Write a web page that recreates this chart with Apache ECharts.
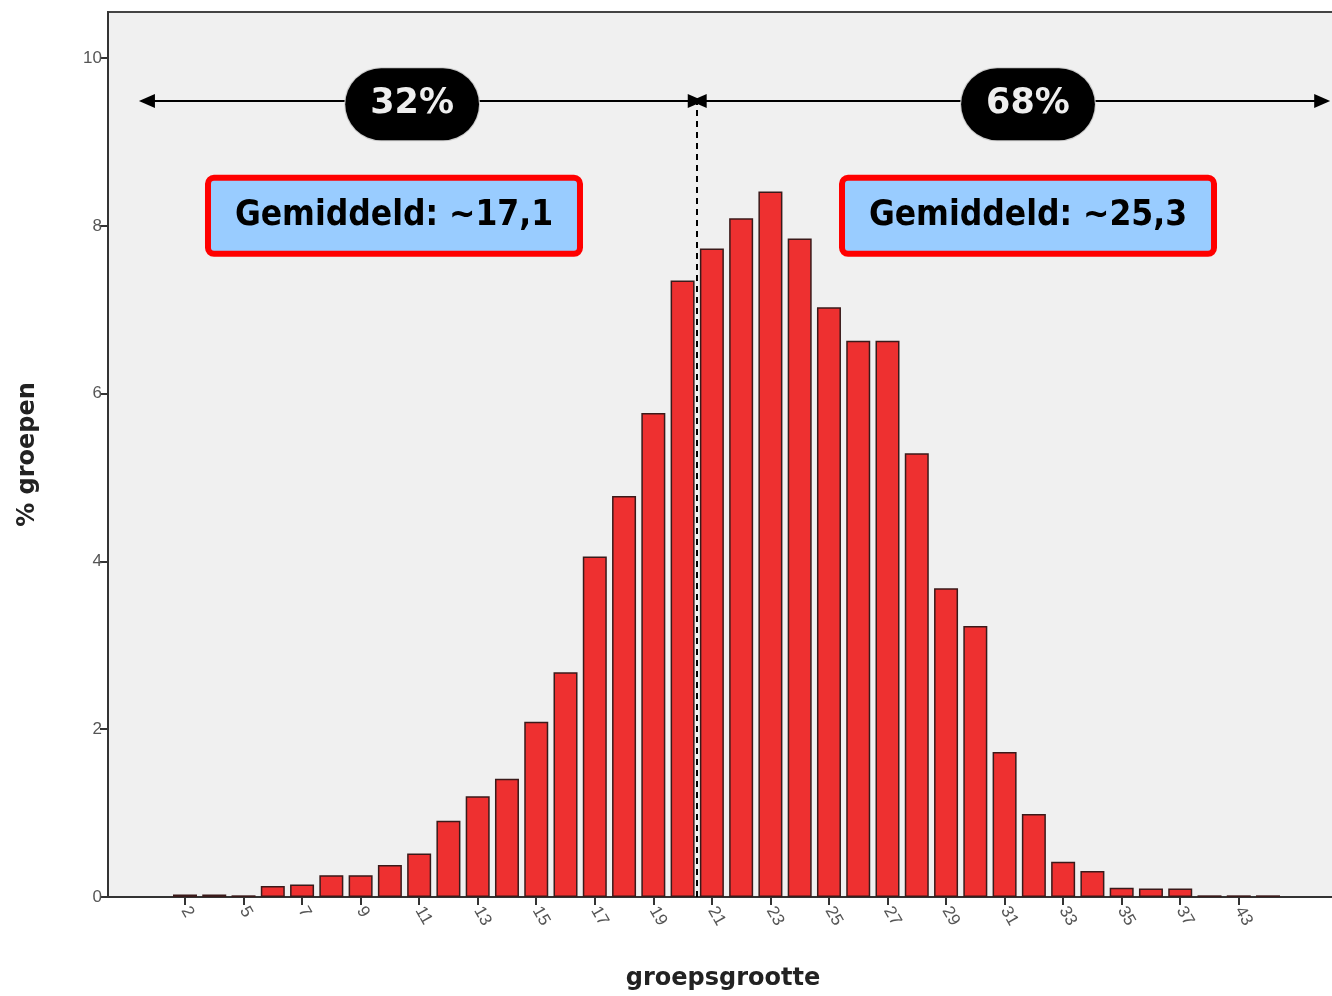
<!DOCTYPE html>
<html>
<head>
<meta charset="utf-8">
<title>groepsgrootte</title>
<script src="https://cdn.jsdelivr.net/npm/echarts@6/dist/echarts.min.js"></script>
<style>
  html, body { margin: 0; padding: 0; background: #ffffff; }
  #chart { width: 1332px; height: 996px; }
</style>
</head>
<body>
<div id="chart"></div>
<script>
// Group sizes (only the sizes that occur) and the share of groups per size, in %
const groupSizes = [2, 3, 5, 6, 7, 8, 9, 10, 11, 12, 13, 14, 15, 16, 17, 18, 19, 20, 21, 22,
                    23, 24, 25, 26, 27, 28, 29, 30, 31, 32, 33, 34, 35, 36, 37, 39, 43, 45];
const percentGroups = [0.03, 0.03, 0.02, 0.13, 0.15, 0.26, 0.26, 0.38, 0.52, 0.91, 1.20, 1.41,
                       2.09, 2.68, 4.06, 4.78, 5.77, 7.35, 7.73, 8.09, 8.41, 7.85, 7.03, 6.63,
                       6.63, 5.29, 3.68, 3.23, 1.73, 0.99, 0.42, 0.31, 0.11, 0.10, 0.10, 0.02,
                       0.02, 0.02];
const yTicks = [0, 2, 4, 6, 8, 10];
// every second size gets a tick and a label
const labelledIdx = groupSizes.map((_, i) => i).filter(i => i % 2 === 0);

// split between the two parts of the distribution (between size 20 and 21)
const splitPos = 17.5;
const shares = [{ text: '32%', from: -1.3, to: 17.45, center: 7.76 },
                { text: '68%', from: 17.55, to: 38.85, center: 28.8 }];
const means = [{ text: 'Gemiddeld: ~17,1', center: 7.14 },
               { text: 'Gemiddeld: ~25,3', center: 28.8 }];
const arrowLevel = 9.49;
const boxLevel = 8.12;

const chart = echarts.init(document.getElementById('chart'));

const pill = {
  show: true, position: 'inside', color: '#eeeeee', fontSize: 35, fontWeight: 'bold',
  fontFamily: 'DejaVu Sans', backgroundColor: '#000000', borderColor: '#cccccc',
  borderWidth: 1, borderRadius: 36, padding: [16, 25], lineHeight: 40
};
const box = {
  show: true, position: 'inside', color: '#000000', fontSize: 35, fontWeight: 'bold',
  fontFamily: '"DejaVu Sans Condensed", "DejaVu Sans", sans-serif', backgroundColor: '#99ccff',
  borderColor: '#ff0000', borderWidth: 6, borderRadius: 3, padding: [15, 16],
  width: 334, align: 'center', lineHeight: 40
};

chart.setOption({
  animation: false,
  grid: {
    left: 108, top: 12, width: 1230, height: 885,
    outerBoundsMode: 'none', containLabel: false,
    show: true, backgroundColor: '#f0f0f0', borderColor: '#444444', borderWidth: 2
  },
  xAxis: {
    type: 'value', min: -2.63, max: 39.39,
    name: 'groepsgrootte', nameLocation: 'middle', nameGap: 70,
    nameTextStyle: { fontFamily: 'DejaVu Sans', fontWeight: 'bold', fontSize: 24, color: '#222222' },
    axisLine: { show: true, onZero: false, lineStyle: { color: '#333333', width: 2 } },
    axisTick: { show: true, length: 8, customValues: labelledIdx, lineStyle: { color: '#333333', width: 2 } },
    axisLabel: {
      customValues: labelledIdx, rotate: -60, margin: 11,
      color: '#555555', fontSize: 17, fontFamily: 'Liberation Sans, Arial, sans-serif',
      formatter: v => String(groupSizes[Math.round(v)])
    },
    splitLine: { show: false }
  },
  yAxis: {
    type: 'value', min: 0, max: 10.55,
    name: '% groepen', nameLocation: 'middle', nameGap: 68, nameRotate: 90,
    nameTextStyle: { fontFamily: 'DejaVu Sans', fontWeight: 'bold', fontSize: 24, color: '#222222' },
    axisLine: { show: true, onZero: false, lineStyle: { color: '#333333', width: 2 } },
    axisTick: { show: true, length: 8, customValues: yTicks, lineStyle: { color: '#333333', width: 2 } },
    axisLabel: { customValues: yTicks, margin: 6, color: '#555555', fontSize: 17,
                 fontFamily: 'Liberation Sans, Arial, sans-serif' },
    splitLine: { show: false }
  },
  series: [{
    type: 'bar',
    data: percentGroups.map((v, i) => [i, v]),
    barWidth: 24,
    itemStyle: { color: '#ee3030', borderColor: '#3a1a1a', borderWidth: 1.5 },
    markLine: {
      silent: true,
      animation: false,
      label: { show: false },
      data: [
        [{ coord: [splitPos, 0], symbol: 'none', lineStyle: { type: [6, 5], color: '#000', width: 2 } },
         { coord: [splitPos, arrowLevel], symbol: 'none' }],
        ...shares.map(s => [
          { coord: [s.from, arrowLevel], symbol: 'triangle', symbolSize: [14, 16],
            lineStyle: { type: 'solid', color: '#000', width: 2 } },
          { coord: [s.to, arrowLevel], symbol: 'triangle', symbolSize: [14, 16] }
        ])
      ]
    },
    markPoint: {
      silent: true,
      animation: false,
      symbol: 'rect', symbolSize: 1, itemStyle: { color: 'rgba(0,0,0,0)' },
      data: [
        ...shares.map(s => ({ coord: [s.center, 9.45], value: s.text, label: Object.assign({ formatter: s.text }, pill) })),
        ...means.map(m => ({ coord: [m.center, boxLevel], value: m.text, label: Object.assign({ formatter: m.text }, box) }))
      ]
    }
  }]
});
</script>
</body>
</html>
